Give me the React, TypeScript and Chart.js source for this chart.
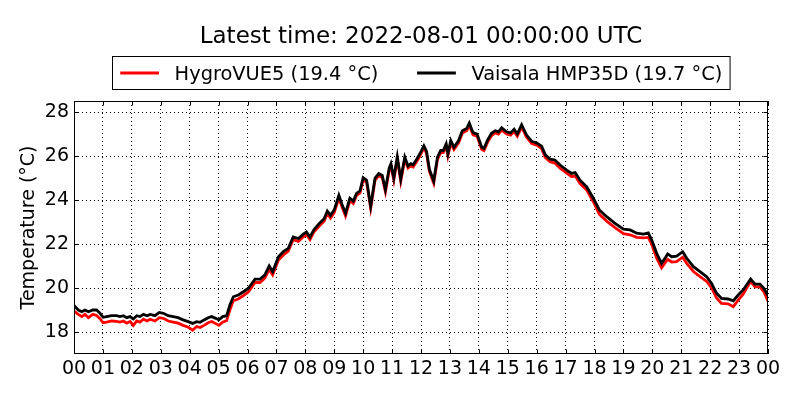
import { useEffect, useRef } from "react";
import { Chart, registerables } from "chart.js";

Chart.register(...registerables);

// hours since 2022-07-31 00:00 UTC
const hours = [
  0.0, 0.15, 0.27, 0.38, 0.5, 0.65, 0.78, 0.9, 1.01, 1.13,
  1.3, 1.47, 1.59, 1.71, 1.82, 1.94, 2.05, 2.17, 2.28, 2.4,
  2.53, 2.63, 2.8, 2.95, 3.09, 3.26, 3.43, 3.6, 3.77, 3.95,
  4.1, 4.24, 4.36, 4.5, 4.64, 4.76, 4.9, 5.01, 5.14, 5.28,
  5.39, 5.51, 5.68, 5.86, 6.03, 6.26, 6.43, 6.6, 6.75, 6.87,
  7.07, 7.24, 7.41, 7.58, 7.76, 7.93, 8.04, 8.16, 8.3, 8.49,
  8.65, 8.76, 8.87, 9.0, 9.16, 9.27, 9.39, 9.54, 9.66, 9.77,
  9.89, 10.0, 10.12, 10.26, 10.41, 10.54, 10.66, 10.77, 10.9, 10.96,
  11.06, 11.18, 11.3, 11.44, 11.55, 11.65, 11.73, 11.85, 11.96, 12.1,
  12.19, 12.29, 12.44, 12.57, 12.68, 12.77, 12.87, 12.93, 13.03, 13.14,
  13.3, 13.43, 13.58, 13.67, 13.8, 13.94, 14.1, 14.18, 14.3, 14.44,
  14.57, 14.68, 14.79, 14.96, 15.1, 15.22, 15.33, 15.48, 15.65, 15.83,
  16.02, 16.17, 16.3, 16.46, 16.63, 16.81, 17.04, 17.21, 17.33, 17.5,
  17.73, 17.96, 18.17, 18.42, 18.71, 19.0, 19.23, 19.46, 19.69, 19.86,
  19.98, 20.15, 20.32, 20.47, 20.53, 20.67, 20.84, 21.05, 21.19, 21.42,
  21.65, 21.88, 22.05, 22.22, 22.39, 22.62, 22.8, 22.97, 23.14, 23.4,
  23.55, 23.72, 23.86, 24.0,
];

// Vaisala HMP35D (°C)
const vaisala = [
  19.2, 19.0, 18.92, 19.0, 18.92, 19.0, 19.0, 18.85, 18.67, 18.7,
  18.74, 18.74, 18.7, 18.74, 18.65, 18.7, 18.59, 18.74, 18.7, 18.8,
  18.74, 18.8, 18.74, 18.89, 18.85, 18.74, 18.7, 18.65, 18.55, 18.47,
  18.39, 18.47, 18.44, 18.55, 18.65, 18.7, 18.62, 18.55, 18.7, 18.74,
  19.23, 19.6, 19.68, 19.83, 19.99, 20.4, 20.4, 20.6, 21.0, 20.74,
  21.42, 21.65, 21.8, 22.32, 22.25, 22.45, 22.55, 22.32, 22.66, 22.94,
  23.15, 23.5, 23.3, 23.55, 24.22, 23.8, 23.4, 24.08, 23.95, 24.3,
  24.42, 25.02, 24.9, 23.72, 25.0, 25.2, 25.12, 24.47, 25.45, 25.65,
  25.0, 25.97, 24.95, 25.95, 25.55, 25.65, 25.6, 25.85, 26.1, 26.46,
  26.22, 25.4, 24.86, 25.95, 26.25, 26.25, 26.55, 26.1, 26.7, 26.4,
  26.7, 27.15, 27.25, 27.5, 27.06, 27.0, 26.4, 26.35, 26.72, 27.03,
  27.15, 27.1, 27.28, 27.1, 27.05, 27.22, 27.0, 27.42, 26.95, 26.67,
  26.58, 26.45, 26.05, 25.86, 25.82, 25.59, 25.36, 25.21, 25.25, 24.9,
  24.6, 24.08, 23.55, 23.24, 22.94, 22.67, 22.64, 22.49, 22.45, 22.51,
  22.18, 21.58, 21.12, 21.42, 21.55, 21.42, 21.45, 21.65, 21.35, 20.97,
  20.74, 20.51, 20.21, 19.76, 19.53, 19.5, 19.42, 19.68, 19.91, 20.41,
  20.18, 20.18, 19.98, 19.65,
];

// HygroVUE5 (°C)
const hygrovue = [
  18.95, 18.8, 18.7, 18.8, 18.65, 18.8, 18.75, 18.6, 18.42, 18.45,
  18.5, 18.48, 18.45, 18.5, 18.4, 18.48, 18.3, 18.5, 18.45, 18.58,
  18.5, 18.58, 18.5, 18.65, 18.62, 18.5, 18.45, 18.4, 18.3, 18.22,
  18.08, 18.25, 18.2, 18.3, 18.42, 18.48, 18.38, 18.3, 18.45, 18.52,
  19.0, 19.42, 19.5, 19.66, 19.82, 20.25, 20.25, 20.45, 20.85, 20.6,
  21.27, 21.5, 21.68, 22.2, 22.12, 22.33, 22.43, 22.2, 22.55, 22.83,
  23.04, 23.38, 23.18, 23.43, 24.1, 23.68, 23.28, 23.97, 23.84, 24.2,
  24.32, 24.92, 24.8, 23.62, 24.9, 25.1, 25.02, 24.37, 25.35, 25.55,
  24.9, 25.87, 24.85, 25.85, 25.45, 25.55, 25.5, 25.75, 26.0, 26.38,
  26.12, 25.3, 24.76, 25.85, 26.15, 26.15, 26.45, 26.0, 26.6, 26.3,
  26.6, 27.05, 27.15, 27.4, 26.96, 26.9, 26.3, 26.25, 26.62, 26.93,
  27.05, 27.0, 27.18, 27.0, 26.95, 27.12, 26.9, 27.32, 26.85, 26.57,
  26.48, 26.33, 25.92, 25.74, 25.68, 25.45, 25.22, 25.06, 25.1, 24.75,
  24.45, 23.92, 23.35, 23.04, 22.74, 22.47, 22.42, 22.3, 22.28, 22.3,
  21.98, 21.35, 20.92, 21.2, 21.3, 21.18, 21.2, 21.4, 21.12, 20.75,
  20.52, 20.3, 20.0, 19.55, 19.3, 19.28, 19.15, 19.45, 19.72, 20.3,
  20.05, 20.05, 19.82, 19.4,
];

const hourLabels = [
  "00", "01", "02", "03", "04", "05", "06", "07", "08", "09", "10", "11", "12",
  "13", "14", "15", "16", "17", "18", "19", "20", "21", "22", "23", "00",
];
const hourTicks = [
  0, 1, 2, 3, 4, 5, 6, 7, 8, 9, 10, 11, 12,
  13, 14, 15, 16, 17, 18, 19, 20, 21, 22, 23, 24,
];
const tempTicks = [18, 20, 22, 24, 26, 28];

const titleText = "Latest time: 2022-08-01 00:00:00 UTC";
const seriesNames = ["HygroVUE5 (19.4 °C)", "Vaisala HMP35D (19.7 °C)"];
const seriesColors = ["#ff0000", "#000000"];

const FONT = "'DejaVu Sans', sans-serif";

// matplotlib-like frame, inward ticks, title and boxed legend
const decorPlugin = {
  id: "decor",
  afterDatasetsDraw(chart: any) {
    const { ctx, chartArea: a, scales } = chart;
    const l = Math.round(a.left) + 0.5;
    const r = Math.round(a.right) - 0.5;
    const t = Math.round(a.top) + 0.5;
    const b = Math.round(a.bottom) - 0.5;
    ctx.save();
    ctx.strokeStyle = "#000";
    ctx.lineWidth = 1;
    ctx.beginPath();
    hourTicks.forEach((v) => {
      const x = Math.round(scales.x.getPixelForValue(v)) + 0.5;
      ctx.moveTo(x, t);
      ctx.lineTo(x, t + 4);
      ctx.moveTo(x, b);
      ctx.lineTo(x, b - 4);
    });
    tempTicks.forEach((v) => {
      const y = Math.round(scales.y.getPixelForValue(v)) + 0.5;
      ctx.moveTo(l, y);
      ctx.lineTo(l + 4, y);
      ctx.moveTo(r, y);
      ctx.lineTo(r - 4, y);
    });
    ctx.stroke();
    ctx.strokeRect(l, t, r - l, b - t);
    ctx.restore();
  },
  afterDraw(chart: any) {
    const { ctx, chartArea: a } = chart;
    const cx = (a.left + a.right) / 2;
    ctx.save();
    ctx.fillStyle = "#000";
    ctx.font = `23px ${FONT}`;
    ctx.textAlign = "center";
    ctx.textBaseline = "alphabetic";
    ctx.fillText(titleText, cx, 43);

    // legend
    const fs = 19.4;
    ctx.font = `${fs}px ${FONT}`;
    const pad = 0.4 * fs;
    const handle = 2 * fs;
    const textPad = 0.8 * fs;
    const colSpace = 2 * fs;
    const widths = seriesNames.map((s) => ctx.measureText(s).width);
    const total =
      2 * pad + widths.reduce((s, w) => s + w, 0) +
      seriesNames.length * (handle + textPad) + (seriesNames.length - 1) * colSpace;
    const left = Math.round(cx - total / 2) + 0.5;
    const top = 56.5;
    const boxH = 33;
    ctx.fillStyle = "#fff";
    ctx.fillRect(left, top, total, boxH);
    ctx.strokeStyle = "#000";
    ctx.lineWidth = 1;
    ctx.strokeRect(left, top, total, boxH);
    let x = left + pad;
    const midY = top + boxH / 2;
    seriesNames.forEach((name, i) => {
      ctx.strokeStyle = seriesColors[i];
      ctx.lineWidth = 2.8;
      ctx.beginPath();
      ctx.moveTo(x, midY);
      ctx.lineTo(x + handle, midY);
      ctx.stroke();
      x += handle + textPad;
      ctx.fillStyle = "#000";
      ctx.textAlign = "left";
      ctx.textBaseline = "alphabetic";
      ctx.fillText(name, x, midY + 7);
      x += widths[i] + colSpace;
    });
    ctx.restore();
  },
};

export default function App() {
  const canvasRef = useRef<HTMLCanvasElement>(null);

  useEffect(() => {
    if (!canvasRef.current) return;
    const ctx = canvasRef.current.getContext("2d");
    if (!ctx) return;

    const tickFont = { family: FONT, size: 19 };

    const chart = new Chart(ctx, {
      type: "line",
      data: {
        datasets: [
          {
            label: seriesNames[0],
            data: hours.map((h, i) => ({ x: h, y: hygrovue[i] })),
            borderColor: seriesColors[0],
            borderWidth: 2.8,
            pointRadius: 0,
            tension: 0,
            order: 1,
          },
          {
            label: seriesNames[1],
            data: hours.map((h, i) => ({ x: h, y: vaisala[i] })),
            borderColor: seriesColors[1],
            borderWidth: 2.8,
            pointRadius: 0,
            tension: 0,
            order: 0,
          },
        ],
      },
      options: {
        responsive: false,
        animation: false,
        layout: { padding: { top: 101, right: 32, bottom: 0, left: 0 } },
        plugins: {
          legend: { display: false },
          title: { display: false },
          tooltip: { enabled: false },
        },
        scales: {
          x: {
            type: "linear",
            min: 0,
            max: 24,
            afterBuildTicks: (s: any) => {
              s.ticks = hourTicks.map((v) => ({ value: v }));
            },
            afterFit: (s: any) => {
              s.height = 46;
            },
            ticks: {
              autoSkip: false,
              maxRotation: 0,
              padding: 4,
              color: "#000",
              font: tickFont,
              callback: (_v: any, i: number) => hourLabels[i],
            },
            grid: { color: "#000", lineWidth: 1, drawTicks: false },
            border: { display: false, dash: [1, 3] },
          },
          y: {
            type: "linear",
            min: 17,
            max: 28.5,
            afterBuildTicks: (s: any) => {
              s.ticks = tempTicks.map((v) => ({ value: v }));
            },
            afterFit: (s: any) => {
              s.width = 74;
            },
            ticks: {
              padding: 5,
              color: "#000",
              font: tickFont,
            },
            grid: { color: "#000", lineWidth: 1, drawTicks: false },
            border: { display: false, dash: [1, 3] },
            title: {
              display: true,
              text: "Temperature (°C)",
              color: "#000",
              font: { family: FONT, size: 19 },
              padding: { top: 18, bottom: 0 },
            },
          },
        },
      } as any,
      plugins: [decorPlugin],
    });

    return () => {
      chart.destroy();
    };
  }, []);

  return (
    <div style={{ position: "absolute", left: 0, top: 0, width: 800, height: 400, background: "#fff" }}>
      <canvas ref={canvasRef} width={800} height={400} />
    </div>
  );
}
